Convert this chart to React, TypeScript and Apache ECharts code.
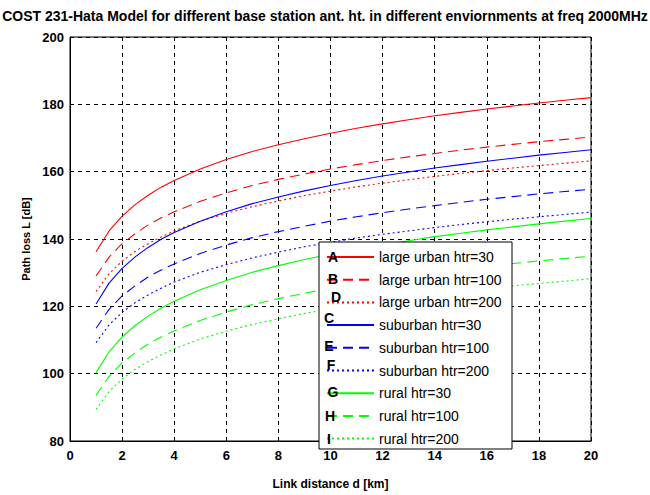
import React, { useEffect, useRef } from "react";
import * as echarts from "echarts";

// Link distance d [km]
const distanceKm = [1, 1.5, 2, 2.5, 3, 3.5, 4, 5, 6, 7, 8, 9, 10, 11, 12, 13, 14, 15, 16, 17, 18, 19, 20];

// Path loss L [dB]
const largeUrban30 = [136.2, 142.4, 146.8, 150.2, 153.0, 155.4, 157.4, 160.8, 163.6, 166.0, 168.0, 169.8, 171.4, 172.9, 174.2, 175.4, 176.6, 177.6, 178.6, 179.5, 180.4, 181.2, 182.0];
const largeUrban100 = [129.0, 134.6, 138.6, 141.6, 144.2, 146.3, 148.1, 151.2, 153.7, 155.9, 157.7, 159.3, 160.8, 162.1, 163.3, 164.4, 165.4, 166.4, 167.3, 168.1, 168.9, 169.6, 170.3];
const largeUrban200 = [124.4, 129.7, 133.4, 136.3, 138.6, 140.6, 142.4, 145.3, 147.6, 149.6, 151.3, 152.9, 154.2, 155.5, 156.6, 157.6, 158.6, 159.5, 160.3, 161.1, 161.8, 162.5, 163.2];
const suburban30 = [120.7, 126.9, 131.3, 134.7, 137.5, 139.9, 141.9, 145.3, 148.1, 150.5, 152.5, 154.3, 155.9, 157.4, 158.7, 159.9, 161.1, 162.1, 163.1, 164.0, 164.9, 165.7, 166.5];
const suburban100 = [113.5, 119.1, 123.1, 126.1, 128.7, 130.8, 132.6, 135.7, 138.2, 140.4, 142.2, 143.8, 145.3, 146.6, 147.8, 148.9, 149.9, 150.9, 151.8, 152.6, 153.4, 154.1, 154.8];
const suburban200 = [109.2, 114.5, 118.2, 121.1, 123.4, 125.4, 127.2, 130.1, 132.4, 134.4, 136.1, 137.7, 139.0, 140.3, 141.4, 142.4, 143.4, 144.3, 145.1, 145.9, 146.6, 147.3, 148.0];
const rural30 = [100.3, 106.5, 110.9, 114.3, 117.1, 119.5, 121.5, 124.9, 127.7, 130.1, 132.1, 133.9, 135.5, 137.0, 138.3, 139.5, 140.7, 141.7, 142.7, 143.6, 144.5, 145.3, 146.1];
const rural100 = [93.6, 99.2, 103.2, 106.2, 108.8, 110.9, 112.7, 115.8, 118.3, 120.5, 122.3, 123.9, 125.4, 126.7, 127.9, 129.0, 130.0, 131.0, 131.9, 132.7, 133.5, 134.2, 134.9];
const rural200 = [89.4, 94.7, 98.4, 101.3, 103.6, 105.6, 107.4, 110.3, 112.6, 114.6, 116.3, 117.9, 119.2, 120.5, 121.6, 122.6, 123.6, 124.5, 125.3, 126.1, 126.8, 127.5, 128.2];

const seriesNames = [
  "large urban htr=30",
  "large urban htr=100",
  "large urban htr=200",
  "suburban htr=30",
  "suburban htr=100",
  "suburban htr=200",
  "rural htr=30",
  "rural htr=100",
  "rural htr=200",
];
const seriesValues = [largeUrban30, largeUrban100, largeUrban200, suburban30, suburban100, suburban200, rural30, rural100, rural200];
const legendLetters = ["A", "B", "D", "C", "E", "F", "G", "H", "I"];

// curve annotation letters (data coordinates)
const curveLetters = ["A", "B", "C", "D", "E", "F", "G", "H", "I"];
const curveLetterD = [10.8, 9.4, 9.0, 18.2, 14.9, 8.3, 7.1, 6.6, 6.0];
const curveLetterL = [171.2, 161.3, 154.4, 161.3, 150.7, 135.7, 130.8, 119.5, 112.6];

const xTicks = { min: 0, max: 20, interval: 2 };
const yTicks = { min: 80, max: 200, interval: 20 };

const colors = ["#ff0000", "#ff0000", "#ff0000", "#0000ff", "#0000ff", "#0000ff", "#00ff00", "#00ff00", "#00ff00"];
const dashes: any[] = ["solid", [10, 6], [2, 3], "solid", [10, 6], [2, 3], "solid", [10, 6], [2, 3]];
const legendLetterPos = [
  [333, 257], [333, 279], [336, 297], [329, 318], [329, 346], [331, 365], [333, 392], [330, 416], [329, 439],
];

const FONT = "'Liberation Sans', Arial, sans-serif";

export default function App() {
  const ref = useRef<HTMLDivElement>(null);
  useEffect(() => {
    if (!ref.current) return;
    const chart = echarts.init(ref.current, undefined, { renderer: "svg" });
    const lineSeries = seriesNames.map((name, i) => ({
      name,
      type: "line",
      data: distanceKm.map((d, j) => [d, seriesValues[i][j]]),
      symbol: "none",
      showSymbol: false,
      smooth: false,
      z: 2,
      lineStyle: { color: colors[i], width: 1.1, type: dashes[i] },
      itemStyle: { color: colors[i] },
    }));
    const letterSeries = {
      name: "letters",
      type: "scatter",
      symbolSize: 1,
      itemStyle: { opacity: 0 },
      z: 3,
      data: curveLetters.map((c, i) => [curveLetterD[i], curveLetterL[i], c]),
      label: {
        show: true,
        position: "inside",
        formatter: (p: any) => p.value[2],
        color: "#000",
        fontSize: 14,
        fontWeight: "bold",
        fontFamily: FONT,
      },
    };
    chart.setOption({
      animation: false,
      backgroundColor: "#fff",
      title: {
        text: "COST 231-Hata Model for different base station ant. ht. in different enviornments at freq 2000MHz",
        left: "center",
        top: 4,
        textStyle: { fontSize: 14, fontWeight: "bold", color: "#000", fontFamily: FONT },
      },
      grid: {
        left: 70,
        right: 59,
        top: 37,
        bottom: 42,
        show: true,
        borderColor: "#000",
        borderWidth: 1,
        backgroundColor: "transparent",
      },
      xAxis: {
        type: "value",
        min: xTicks.min,
        max: xTicks.max,
        interval: xTicks.interval,
        name: "Link distance d [km]",
        nameLocation: "middle",
        nameGap: 37,
        nameTextStyle: { fontSize: 12, fontWeight: "bold", color: "#000", fontFamily: FONT },
        axisLine: { show: true, lineStyle: { color: "#000" } },
        axisTick: { show: true, inside: true, length: 4, lineStyle: { color: "#000" } },
        axisLabel: { color: "#000", fontSize: 13, fontWeight: "bold", fontFamily: FONT, margin: 8 },
        splitLine: { show: true, lineStyle: { color: "#000", type: [4, 4], width: 1 } },
      },
      yAxis: {
        type: "value",
        min: yTicks.min,
        max: yTicks.max,
        interval: yTicks.interval,
        name: "Path loss L [dB]",
        nameLocation: "middle",
        nameGap: 37,
        nameRotate: 90,
        nameTextStyle: { fontSize: 11, fontWeight: "bold", color: "#000", fontFamily: FONT },
        axisLine: { show: true, lineStyle: { color: "#000" } },
        axisTick: { show: true, inside: true, length: 4, lineStyle: { color: "#000" } },
        axisLabel: { color: "#000", fontSize: 13, fontWeight: "bold", fontFamily: FONT, margin: 6 },
        splitLine: { show: true, lineStyle: { color: "#000", type: [4, 4], width: 1 } },
      },
      legend: {
        data: seriesNames,
        orient: "vertical",
        left: 326,
        top: 250,
        padding: 0,
        itemWidth: 47,
        itemHeight: 14,
        itemGap: 8.7,
        z: 6,
        selectedMode: false,
        itemStyle: { opacity: 0 },
        textStyle: { color: "#000", fontSize: 14, fontFamily: FONT },
      },
      graphic: [
        {
          type: "rect",
          z: 4,
          shape: { x: 319, y: 242, width: 193, height: 207 },
          style: { fill: "#fff", stroke: "#000", lineWidth: 1 },
        },
        ...legendLetters.map((c, i) => ({
          type: "text",
          z: 10,
          x: legendLetterPos[i][0],
          y: legendLetterPos[i][1],
          style: {
            text: c,
            fill: "#000",
            fontSize: 14,
            fontWeight: "bold",
            fontFamily: FONT,
            textAlign: "center",
            textVerticalAlign: "middle",
          },
        })),
      ],
      series: [...lineSeries, letterSeries],
    });
    return () => chart.dispose();
  }, []);
  return (
    <div
      ref={ref}
      style={{ position: "fixed", left: 0, top: 0, width: 650, height: 495 }}
    />
  );
}
